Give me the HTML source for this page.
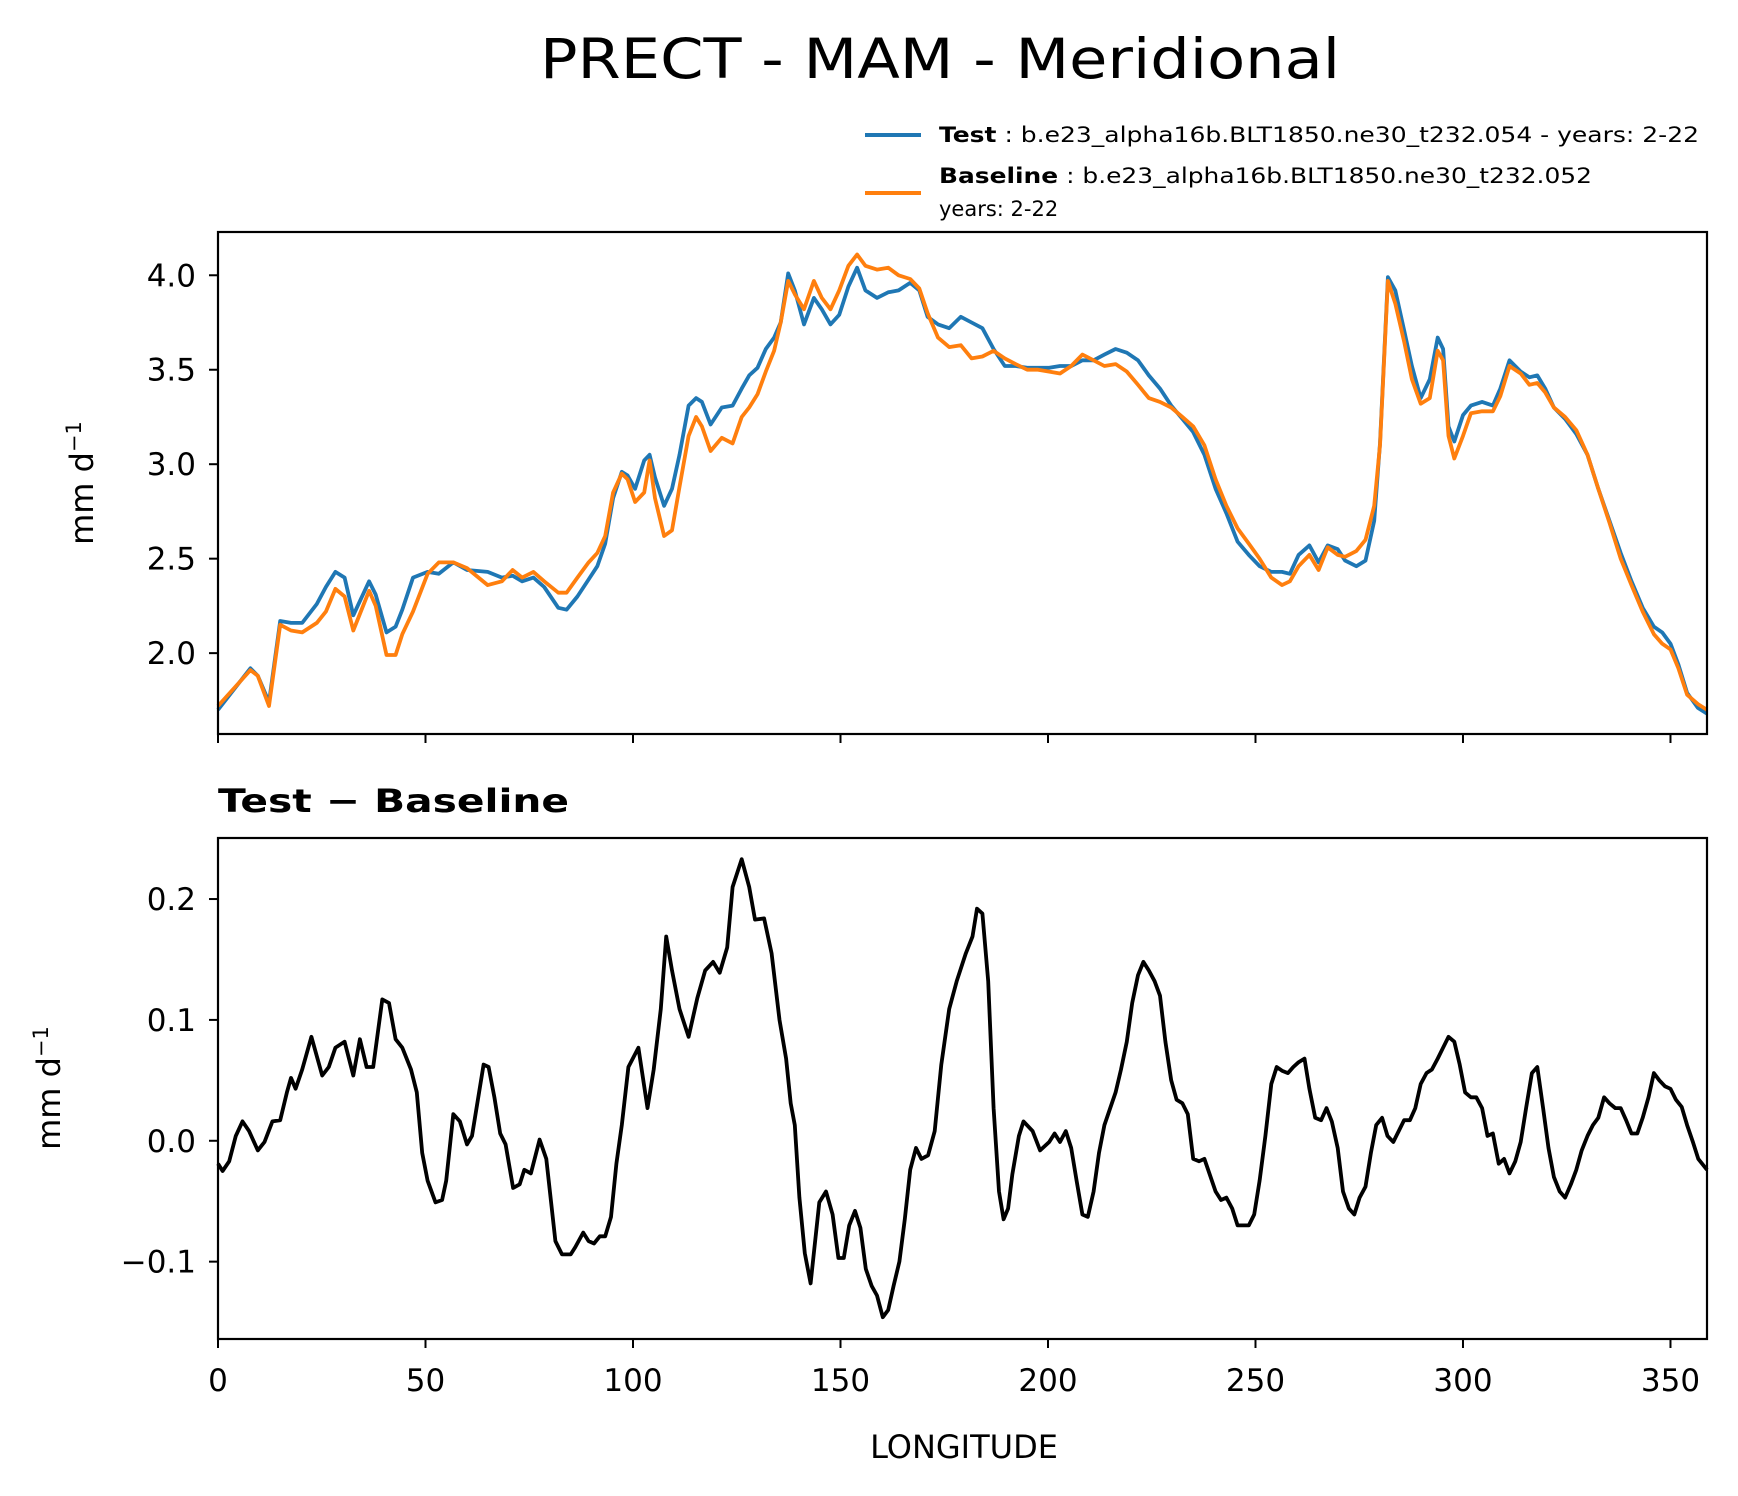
<!DOCTYPE html>
<html><head><meta charset="utf-8"><style>
html,body{margin:0;padding:0;background:#fff}
svg{display:block;font-family:"DejaVu Sans","Liberation Sans",sans-serif}
</style></head><body>
<svg id="chart" width="1738" height="1496" viewBox="0 0 1738 1496" xmlns="http://www.w3.org/2000/svg">
<rect width="1738" height="1496" fill="#fff"/>
<text x="940" y="78" font-size="55" text-anchor="middle" textLength="800" lengthAdjust="spacingAndGlyphs">PRECT - MAM - Meridional</text>
<g>
<line x1="865" y1="135" x2="921" y2="135" stroke="#1f77b4" stroke-width="4"/>
<text x="939" y="142" font-size="21" textLength="760" lengthAdjust="spacingAndGlyphs"><tspan font-weight="bold">Test</tspan> : b.e23_alpha16b.BLT1850.ne30_t232.054 - years: 2-22</text>
<line x1="865" y1="193" x2="921" y2="193" stroke="#ff7f0e" stroke-width="4"/>
<text x="939" y="183" font-size="21" textLength="653" lengthAdjust="spacingAndGlyphs"><tspan font-weight="bold">Baseline</tspan> : b.e23_alpha16b.BLT1850.ne30_t232.052</text>
<text x="939" y="216" font-size="21">years: 2-22</text>
</g>
<g id="topPanel"></g>
<g id="botPanel"></g>
<text x="218" y="812" font-size="32" font-weight="bold" textLength="351" lengthAdjust="spacingAndGlyphs">Test − Baseline</text>
<text x="964" y="1458" font-size="32" text-anchor="middle">LONGITUDE</text>
<text transform="translate(93,483) rotate(-90)" font-size="32" text-anchor="middle">mm d<tspan baseline-shift="super" font-size="21">−1</tspan></text>
<text transform="translate(60,1088) rotate(-90)" font-size="32" text-anchor="middle">mm d<tspan baseline-shift="super" font-size="21">−1</tspan></text>
</svg>
<script>
const lonTop = [0,7.8,9.6,12.3,15,17.6,20.3,23.8,26,28.3,30.5,32.6,36.4,38,40.6,42.8,44.4,47,50.5,53.2,56.7,60,65,68.4,71,73.3,76,78.6,82,84,86.6,89.3,91.4,93.3,95.2,97.3,98.7,100.5,102.7,104,105.3,107.5,109.4,111.2,113.4,115.2,116.6,118.7,121.4,124,126.2,128,130,132,134,135.6,137.4,139,141.2,143.6,145.5,147.6,149.7,151.9,154,156,158.8,161.5,164,166.8,169,171,173.5,176.2,179,181.6,184.2,186.9,189.6,192.2,195,197.6,200.3,202.9,205.6,208.3,211,213.6,216.3,219,221.7,224.3,227,229.7,232.4,235,237.7,240.4,243,245.7,248.4,251,253.8,256.4,258.3,260.4,263,265.2,267.4,269.8,271.6,274.3,276.5,278.6,280,281.9,283.7,285.8,287.7,289.8,292,293.9,295.2,296.5,297.9,300,301.9,304.6,307.2,309,311.2,313.9,316,317.9,319.8,321.9,324.6,327.3,330,332.6,335.3,338,340.6,343.3,346,348,350,351.9,354,356.6,358.8];
const testVals = [1.70,1.92,1.88,1.74,2.17,2.16,2.16,2.26,2.35,2.43,2.40,2.20,2.38,2.31,2.11,2.14,2.23,2.40,2.43,2.42,2.48,2.44,2.43,2.40,2.41,2.38,2.40,2.35,2.24,2.23,2.30,2.39,2.46,2.58,2.82,2.96,2.94,2.87,3.02,3.05,2.93,2.78,2.87,3.05,3.31,3.35,3.33,3.21,3.30,3.31,3.40,3.47,3.51,3.61,3.67,3.75,4.01,3.92,3.74,3.88,3.82,3.74,3.79,3.94,4.04,3.92,3.88,3.91,3.92,3.96,3.92,3.78,3.74,3.72,3.78,3.75,3.72,3.61,3.52,3.52,3.51,3.51,3.51,3.52,3.52,3.55,3.55,3.58,3.61,3.59,3.55,3.47,3.40,3.31,3.24,3.17,3.05,2.87,2.74,2.59,2.52,2.46,2.43,2.43,2.42,2.52,2.57,2.48,2.57,2.55,2.49,2.46,2.49,2.70,3.11,3.99,3.92,3.71,3.52,3.35,3.45,3.67,3.61,3.20,3.12,3.26,3.31,3.33,3.31,3.40,3.55,3.49,3.46,3.47,3.40,3.30,3.24,3.16,3.05,2.87,2.70,2.53,2.38,2.24,2.14,2.11,2.05,1.94,1.79,1.71,1.68];
const baseVals = [1.72,1.91,1.88,1.72,2.15,2.12,2.11,2.16,2.22,2.34,2.30,2.12,2.33,2.25,1.99,1.99,2.10,2.22,2.42,2.48,2.48,2.45,2.36,2.38,2.44,2.40,2.43,2.38,2.32,2.32,2.40,2.48,2.53,2.62,2.85,2.95,2.92,2.80,2.85,3.02,2.82,2.62,2.65,2.88,3.15,3.25,3.20,3.07,3.14,3.11,3.25,3.30,3.37,3.49,3.60,3.75,3.97,3.90,3.82,3.97,3.88,3.82,3.92,4.05,4.11,4.05,4.03,4.04,4.00,3.98,3.93,3.80,3.67,3.62,3.63,3.56,3.57,3.60,3.56,3.53,3.50,3.50,3.49,3.48,3.52,3.58,3.55,3.52,3.53,3.49,3.42,3.35,3.33,3.30,3.25,3.20,3.10,2.92,2.78,2.66,2.58,2.50,2.40,2.36,2.38,2.46,2.52,2.44,2.56,2.52,2.51,2.54,2.60,2.78,3.10,3.97,3.85,3.65,3.45,3.32,3.35,3.60,3.55,3.15,3.03,3.15,3.27,3.28,3.28,3.36,3.52,3.48,3.42,3.43,3.38,3.30,3.25,3.18,3.05,2.87,2.69,2.50,2.36,2.22,2.10,2.05,2.02,1.92,1.78,1.73,1.70];
const lonDiff = [0,1.1,2.7,4.3,5.9,7.5,9.6,11.2,13.1,15,16.6,17.6,18.7,20.3,22.5,25.1,26.7,28.3,30.5,32.6,34.2,35.8,37.4,39.6,41.2,42.8,44.4,46.5,47.9,49.2,50.5,52.4,54,55,56.7,58.3,60,61.2,64,65.2,66.6,68,69.3,71.1,72.7,73.8,75.4,77.5,79.1,81.3,82.9,85,86.1,88,89.3,90.6,92,93.3,94.7,96,97.3,98.9,101.3,103.5,105,106.7,108,109.4,111.2,113.4,115.5,117.4,119.3,120.9,122.7,124,126.2,128,129.4,131.6,133.4,135.3,136.9,138,139,140.1,141.4,142.8,144.9,146.5,148.1,149.5,150.8,152.1,153.5,154.8,156.1,157.5,158.8,160.2,161.5,162.8,164.2,165.5,166.8,168.2,169.5,171.1,172.7,174.3,176.2,178,180.2,181.8,182.9,184.2,185.6,186.9,188.2,189.3,190.4,191.4,193,194.1,196.3,198.1,200.3,201.6,202.9,204.3,205.6,206.9,208.3,209.6,211,212.3,213.6,215,216.3,217.6,219,220.3,221.7,223,224.3,225.7,227,228.3,229.7,231,232.4,233.7,235,236.4,237.7,239,240.4,241.7,243,244.4,245.7,247.1,248.4,249.7,251,252.4,253.8,255.1,256.4,257.8,259.1,260.4,261.8,263,264.4,265.8,267.1,268.4,269.8,271.1,272.5,273.8,275.1,276.5,277.8,279.1,280.5,281.8,283.2,284.5,285.8,287.2,288.5,289.8,291.2,292.5,293.9,295.2,296.5,297.9,299.2,300.5,301.9,303.2,304.6,305.9,307.2,308.6,309.9,311.2,312.6,313.9,315.2,316.6,317.9,319.3,320.6,321.9,323.3,324.6,326,327.3,328.6,330,331.3,332.6,334,335.3,336.7,338,339.3,340.6,342,343.3,344.7,346,347.3,348.7,350,351.3,352.7,354,355.4,356.7,358.8];
const diffVals = [-0.019,-0.025,-0.017,0.004,0.016,0.008,-0.008,-0.001,0.016,0.017,0.040,0.052,0.043,0.059,0.086,0.054,0.061,0.077,0.082,0.054,0.084,0.061,0.061,0.117,0.114,0.084,0.077,0.059,0.040,-0.010,-0.033,-0.051,-0.049,-0.033,0.022,0.016,-0.003,0.004,0.063,0.061,0.036,0.006,-0.003,-0.039,-0.036,-0.024,-0.027,0.001,-0.015,-0.083,-0.094,-0.094,-0.088,-0.076,-0.083,-0.085,-0.079,-0.079,-0.063,-0.019,0.013,0.061,0.077,0.027,0.059,0.109,0.169,0.141,0.109,0.086,0.118,0.141,0.148,0.139,0.160,0.210,0.233,0.210,0.183,0.184,0.155,0.100,0.068,0.031,0.013,-0.047,-0.093,-0.118,-0.051,-0.042,-0.061,-0.097,-0.097,-0.070,-0.058,-0.072,-0.106,-0.120,-0.128,-0.146,-0.140,-0.120,-0.100,-0.065,-0.024,-0.006,-0.015,-0.012,0.008,0.063,0.109,0.132,0.155,0.169,0.192,0.188,0.132,0.027,-0.042,-0.065,-0.056,-0.028,0.004,0.016,0.008,-0.008,-0.001,0.006,-0.001,0.008,-0.006,-0.033,-0.061,-0.063,-0.042,-0.010,0.013,0.027,0.040,0.059,0.082,0.114,0.137,0.148,0.141,0.132,0.120,0.082,0.050,0.034,0.031,0.022,-0.015,-0.017,-0.015,-0.028,-0.042,-0.049,-0.047,-0.056,-0.070,-0.070,-0.070,-0.061,-0.033,0.004,0.047,0.061,0.058,0.056,0.061,0.065,0.068,0.043,0.019,0.017,0.027,0.016,-0.006,-0.042,-0.056,-0.061,-0.047,-0.038,-0.010,0.013,0.019,0.004,-0.001,0.008,0.017,0.017,0.027,0.047,0.056,0.059,0.068,0.077,0.086,0.082,0.063,0.040,0.036,0.036,0.027,0.004,0.006,-0.019,-0.015,-0.027,-0.017,-0.001,0.027,0.056,0.061,0.027,-0.006,-0.030,-0.042,-0.047,-0.036,-0.024,-0.008,0.004,0.013,0.019,0.036,0.031,0.027,0.027,0.017,0.006,0.006,0.019,0.036,0.056,0.050,0.045,0.043,0.034,0.028,0.013,-0.001,-0.015,-0.024];
const xTicks = [0,50,100,150,200,250,300,350];
const xTickLabels = ["0","50","100","150","200","250","300","350"];
const topYTicks = [2.0,2.5,3.0,3.5,4.0];
const topYTickLabels = ["2.0","2.5","3.0","3.5","4.0"];
const botYTicks = [-0.1,0.0,0.1,0.2];
const botYTickLabels = ["\u22120.1","0.0","0.1","0.2"];

const NS="http://www.w3.org/2000/svg";
const L=218,R=1707,XMAX=358.8;
const xs=v=>L+(v/XMAX)*(R-L);
const P1={T:232,B:734,min:1.572,max:4.229};
const P2={T:838,B:1339,min:-0.164,max:0.2505};
const ys=(p,v)=>p.B-(v-p.min)/(p.max-p.min)*(p.B-p.T);
function mk(tag,attrs,parent){const e=document.createElementNS(NS,tag);for(const k in attrs)e.setAttribute(k,attrs[k]);parent.appendChild(e);return e;}
function drawLine(parent,lons,vals,p,color,name){
  const d=lons.map((l,i)=>(i?'L':'M')+xs(l).toFixed(1)+','+ys(p,vals[i]).toFixed(1)).join('');
  const e=mk('path',{d:d,fill:'none',stroke:color,'stroke-width':3.8,'stroke-linejoin':'round'},parent);
  
  
}
function axes(g,p,yt,ytl,showX,prefix){
  for(let i=0;i<yt.length;i++){
    const y=ys(p,yt[i]);
    const t=mk('line',{x1:L-9,x2:L,y1:y,y2:y,stroke:'#000','stroke-width':2},g);
    
    
    const tx=mk('text',{x:L-22,y:y+11,'font-size':31,'text-anchor':'end'},g);
    tx.textContent=ytl[i];
    
    
  }
  for(let i=0;i<xTicks.length;i++){
    const x=xs(xTicks[i]);
    const t=mk('line',{x1:x,x2:x,y1:p.B,y2:p.B+9,stroke:'#000','stroke-width':2},g);
    
    
    if(showX){
      const tx=mk('text',{x:x,y:p.B+52,'font-size':31,'text-anchor':'middle'},g);
      tx.textContent=xTickLabels[i];
      
      
    }
  }
}
const gTop=document.getElementById('topPanel'), gBot=document.getElementById('botPanel');
drawLine(gTop,lonTop,testVals,P1,'#1f77b4','test-line');
drawLine(gTop,lonTop,baseVals,P1,'#ff7f0e','baseline-line');
drawLine(gBot,lonDiff,diffVals,P2,'#000','difference-line');
[[gTop,P1],[gBot,P2]].forEach(([g,p])=>{
  const r=mk('rect',{x:L,y:p.T,width:R-L,height:p.B-p.T,fill:'none',stroke:'#000','stroke-width':2.2},g);
  
  
});
axes(gTop,P1,topYTicks,topYTickLabels,false,'top');
axes(gBot,P2,botYTicks,botYTickLabels,true,'diff');
</script>
</body></html>
